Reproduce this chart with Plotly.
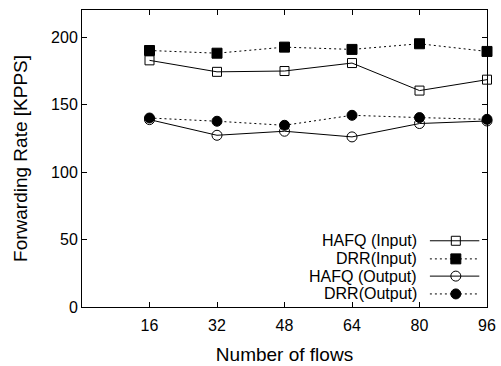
import plotly.graph_objects as go

flows = [16, 32, 48, 64, 80, 96]
hafq_input = [182.7, 174.2, 174.8, 180.7, 160.3, 168.4]
drr_input = [190.0, 188.0, 192.5, 190.8, 195.0, 189.3]
hafq_output = [138.8, 127.2, 130.2, 126.0, 135.9, 137.8]
drr_output = [140.0, 137.6, 134.6, 142.0, 140.3, 139.0]

series_names = ["HAFQ (Input)", "DRR(Input)", "HAFQ (Output)", "DRR(Output)"]
series_values = [hafq_input, drr_input, hafq_output, drr_output]
x_ticks = [16, 32, 48, 64, 80, 96]
y_ticks = [0, 50, 100, 150, 200]

styles = [
    dict(dash="solid", symbol="square-open", size=9),
    dict(dash="2px,3px", symbol="square", size=10),
    dict(dash="solid", symbol="circle-open", size=10),
    dict(dash="2px,3px", symbol="circle", size=10),
]

FONT = "Liberation Sans, Arial, Helvetica, sans-serif"
FS = 16
fig = go.Figure()

for name, vals, st in zip(series_names, series_values, styles):
    fig.add_trace(go.Scatter(
        x=flows, y=vals, mode="lines+markers", name=name,
        line=dict(color="black", width=1, dash=st["dash"]),
        marker=dict(symbol=st["symbol"], size=st["size"], color="black",
                    line=dict(color="black", width=1)),
        cliponaxis=False, showlegend=False,
    ))

# gnuplot-style legend (text right, sample on the right side)
leg_y = [0.223, 0.162, 0.104, 0.044]
for name, st, yy in zip(series_names, styles, leg_y):
    fig.add_trace(go.Scatter(
        x=[0.859, 0.981], y=[yy, yy], mode="lines", xaxis="x2", yaxis="y2",
        line=dict(color="black", width=1, dash=st["dash"]),
        showlegend=False, hoverinfo="skip", cliponaxis=False,
    ))
    fig.add_trace(go.Scatter(
        x=[0.923], y=[yy], mode="markers", xaxis="x2", yaxis="y2",
        marker=dict(symbol=st["symbol"], size=st["size"], color="black",
                    line=dict(color="black", width=1)),
        showlegend=False, hoverinfo="skip", cliponaxis=False,
    ))
    fig.add_annotation(
        x=0.832, y=yy, xref="paper", yref="paper", text=name,
        showarrow=False, xanchor="right", yanchor="middle",
        font=dict(family=FONT, size=FS, color="black"),
    )

fig.update_layout(
    width=501, height=366,
    margin=dict(l=82, r=14, t=10, b=59),
    paper_bgcolor="white", plot_bgcolor="white",
    font=dict(family=FONT, size=FS, color="black"),
    xaxis=dict(
        range=[0, 96], tickvals=x_ticks, ticktext=[str(v) for v in x_ticks],
        ticks="inside", ticklen=5, tickcolor="black", tickwidth=1,
        showline=True, linecolor="black", linewidth=1, mirror="ticks",
        showgrid=False, zeroline=False, ticklabelstandoff=4, automargin=False,
        title=dict(text="Number of flows", standoff=14),
    ),
    yaxis=dict(
        range=[0, 220], tickvals=y_ticks,
        ticks="inside", ticklen=5, tickcolor="black", tickwidth=1,
        showline=True, linecolor="black", linewidth=1, mirror="ticks",
        showgrid=False, zeroline=False, automargin=False,
        title=dict(text="Forwarding Rate [KPPS]", standoff=18),
    ),
    xaxis2=dict(range=[0, 1], overlaying="x", visible=False, fixedrange=True),
    yaxis2=dict(range=[0, 1], overlaying="y", visible=False, fixedrange=True),
)

fig.write_html("out.html")
